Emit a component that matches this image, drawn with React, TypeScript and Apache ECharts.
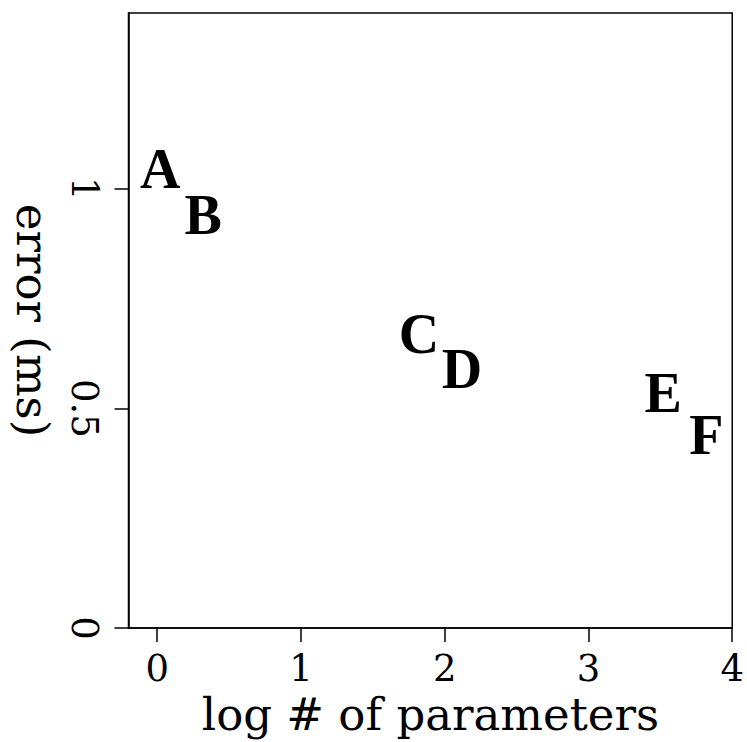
import React, { useEffect, useRef } from "react";
import * as echarts from "echarts";

const pointLabels = ["A", "B", "C", "D", "E", "F"];
const xValues = [0.02, 0.32, 1.82, 2.12, 3.52, 3.82];
const yValues = [1.045, 0.94, 0.67, 0.59, 0.535, 0.44];
const xTicks = [0, 1, 2, 3, 4];
const yTicks = [0, 0.5, 1];

const axisFont = "DejaVu Serif";

export default function App() {
  const ref = useRef<HTMLDivElement>(null);
  useEffect(() => {
    const chart = echarts.init(ref.current!, null, { renderer: "svg" });
    const data = pointLabels.map((n, i) => ({ name: n, value: [xValues[i], yValues[i]] }));
    chart.setOption({
      animation: false,
      backgroundColor: "#ffffff",
      grid: {
        left: 128.5,
        right: 8,
        top: 13,
        bottom: 113,
        show: true,
        borderColor: "#000",
        borderWidth: 1.5,
        backgroundColor: "transparent",
      },
      xAxis: {
        type: "value",
        min: -0.2,
        max: 4,
        name: "log # of parameters",
        nameLocation: "middle",
        nameGap: 64,
        nameTextStyle: { fontFamily: axisFont, fontSize: 45, fontWeight: "normal", color: "#000" },
        axisLine: { show: true, onZero: false, lineStyle: { color: "#000", width: 1.5 } },
        axisTick: { show: true, length: 14, customValues: xTicks, lineStyle: { color: "#000", width: 1.5 } },
        axisLabel: {
          customValues: xTicks,
          margin: 22,
          fontFamily: axisFont,
          fontSize: 37,
          color: "#000",
        },
        splitLine: { show: false },
      },
      yAxis: {
        type: "value",
        min: 0,
        max: 1.4,
        name: "error (ms)",
        nameLocation: "middle",
        nameRotate: -90,
        nameGap: 74,
        nameTextStyle: { fontFamily: axisFont, fontSize: 45, color: "#000" },
        axisLine: { show: true, onZero: false, lineStyle: { color: "#000", width: 1.5 } },
        axisTick: { show: true, length: 14, customValues: yTicks, lineStyle: { color: "#000", width: 1.5 } },
        axisLabel: {
          customValues: yTicks,
          rotate: -90,
          margin: 26,
          fontFamily: axisFont,
          fontSize: 37,
          color: "#000",
        },
        splitLine: { show: false },
      },
      series: [
        {
          type: "scatter",
          data,
          symbolSize: 0,
          itemStyle: { opacity: 1 },
          label: {
            show: true,
            position: "inside",
            formatter: "{b}",
            fontFamily: "Liberation Serif",
            fontWeight: "bold",
            fontSize: 56,
            color: "#000",
            opacity: 1,
          },
        },
      ],
    });
    return () => chart.dispose();
  }, []);
  return <div ref={ref} style={{ position: "absolute", left: 0, top: 0, width: 747, height: 742 }} />;
}
